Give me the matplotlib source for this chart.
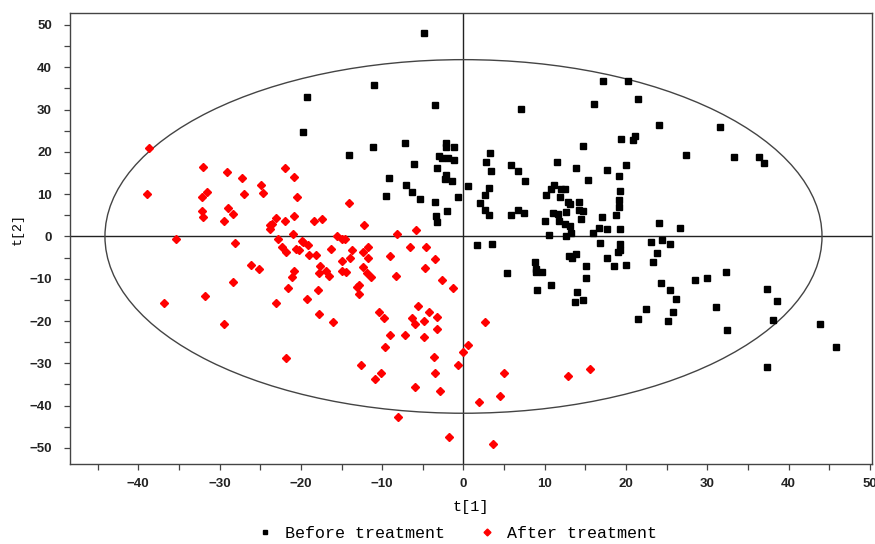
import matplotlib
matplotlib.use("Agg")
import matplotlib.pyplot as plt
from matplotlib.patches import Ellipse
from matplotlib.lines import Line2D
from matplotlib.ticker import MultipleLocator

before_x = [-4.8, -11.0, -19.3, -3.5, -19.8, -11.1, -7.2, -14.1, -2.2, -2.1, -1.2, -3.0, -2.6, -1.9, -1.2, -6.1,
            -3.3, -2.1, -2.3, -1.4, -9.1, -7.1, -9.5, -6.3, -5.4, -3.5, -0.7, 0.5, -2.0, -3.4, -3.3,
            10.5, 12.6, 13.2, 15.9, 1.7, 3.5, 5.4, 8.8, 8.9, 8.9, 9.7, 9.0, 10.8, 13.0, 13.4, 13.8, 15.1, 15.1,
            14.0, 13.7, 14.7, 16.8, 17.7, 18.5, 19.0, 19.3, 19.2, 20.0, 23.1, 23.3, 22.4, 21.5,
            7.1, 17.2, 20.2, 21.5, 16.1, 19.4, 21.1, 20.9, 14.7, 3.3, 2.8, 3.4, 5.8, 6.7, 7.6, 11.5, 13.8,
            17.6, 20.0, 15.3, 19.1, 3.1, 2.6, 2.0, 2.6, 3.1, 5.8, 6.7, 7.4, 10.1, 10.8, 11.1, 12.0, 12.5,
            11.9, 12.9, 13.1, 14.2, 14.2, 14.7, 11.0, 11.6, 12.6, 10.0, 11.7, 12.5, 13.1, 14.5, 17.0, 16.7,
            17.7, 19.2, 18.8, 19.1, 19.1, 19.3,
            24.0, 31.5, 27.4, 33.3, 36.3, 37.0, 24.0, 26.6, 24.4,
            25.4, 23.8, 24.3, 25.4, 26.1, 25.8, 25.2, 28.5, 30.0, 32.3, 31.0, 32.4, 37.3, 38.6, 38.1, 37.3,
            43.8, 45.8]
before_y = [48.0, 35.7, 32.9, 31.0, 24.6, 21.2, 22.0, 19.3, 22.0, 21.1, 21.2, 19.0, 18.6, 18.6, 18.1, 17.1,
            16.2, 14.5, 13.7, 13.0, 13.8, 12.2, 9.6, 10.6, 8.9, 8.2, 9.4, 11.9, 6.0, 4.8, 3.4,
            0.4, 0.2, 0.7, 0.7, -2.0, -1.8, -8.6, -6.1, -7.8, -8.5, -8.4, -12.6, -11.5, -4.6, -5.2, -4.2, -6.9, -9.8,
            -13.1, -15.5, -15.0, -1.6, -5.2, -7.1, -3.7, -3.2, -1.8, -6.7, -1.3, -6.0, -17.2, -19.4,
            30.1, 36.8, 36.8, 32.5, 31.3, 23.0, 23.8, 22.7, 21.5, 19.8, 17.7, 15.5, 16.9, 15.5, 13.0, 17.7, 16.3,
            15.7, 16.9, 13.3, 14.3, 11.5, 9.9, 8.0, 6.3, 5.0, 5.0, 6.3, 5.6, 9.9, 11.2, 12.1, 11.1, 11.1,
            9.4, 8.2, 7.6, 8.2, 6.3, 6.0, 5.5, 5.4, 5.7, 3.7, 3.7, 3.0, 2.5, 4.1, 4.7, 2.1,
            1.8, 1.8, 5.1, 7.0, 8.6, 10.8,
            26.4, 25.9, 19.3, 18.9, 18.9, 17.4, 3.1, 2.1, -0.8,
            -1.8, -4.0, -10.9, -12.6, -14.8, -17.9, -20.1, -10.3, -9.9, -8.4, -16.7, -22.1, -12.4, -15.3, -19.7, -30.9,
            -20.7, -26.2]

after_x = [-38.7, -38.9, -35.3, -32.0, -31.6, -32.2, -32.2, -32.0, -29.1, -27.2, -27.0, -29.0, -28.4, -29.5,
           -28.1, -24.9, -24.7, -22.0, -20.9, -20.5, -23.0, -21.9, -23.8, -23.8, -23.6, -20.8, -21.0, -22.8,
           -22.3, -21.8, -20.6, -26.1, -25.2,
           -20.8, -21.1, -21.6, -28.4, -31.8, -36.8, -23.1, -29.5, -21.8,
           -14.1, -18.4, -17.4, -12.2, -5.9, -8.2,
           -15.6, -15.0, -14.6, -19.9, -19.7, -20.2, -19.1, -19.0, -18.1, -16.3, -17.7, -17.8, -16.9, -16.6,
           -19.3, -17.9, -17.8, -16.1, -14.9, -14.9, -14.5, -14.0, -13.7, -12.4, -11.7, -11.8, -12.4, -11.9,
           -11.4, -12.8, -13.1, -12.9, -12.6, -9.0, -8.3, -6.6, -4.6, -3.5, -4.7, -2.6, -1.3, -10.4, -9.8,
           -9.0, -9.7, -10.1, -10.9, -5.6, -4.3, -6.3, -6.0, -4.9, -3.2, -3.3, -7.2, -4.9, -3.6, -3.5, -6.0,
           -2.9, -0.1, 0.6, -0.7, -8.1, -1.8,
           2.7, 5.0, 4.5, 1.9, 3.6, 12.9, 15.6]
after_y = [21.0, 10.0, -0.7, 16.5, 10.5, 9.4, 6.1, 4.5, 15.3, 13.8, 10.0, 6.7, 5.4, 3.7,
           -1.5, 12.2, 10.2, 16.3, 14.1, 9.4, 4.4, 3.7, 2.6, 1.8, 2.9, 4.8, 0.5, -0.7,
           -2.4, -3.7, -2.9, -6.7, -7.8,
           -8.2, -9.6, -12.2, -10.7, -14.1, -15.8, -15.8, -20.7, -28.8,
           7.8, 3.7, 4.1, 2.7, 1.5, 0.5,
           0.0, -0.6, -0.7, -1.0, -1.3, -3.2, -2.0, -4.4, -4.4, -2.9, -7.0, -8.6, -8.1, -9.3,
           -14.9, -12.7, -18.3, -20.2, -5.9, -8.1, -8.5, -5.1, -3.2, -3.7, -2.6, -5.2, -7.3, -8.7,
           -9.5, -11.5, -11.9, -13.7, -30.5, -4.6, -9.3, -2.4, -2.6, -5.4, -7.4, -10.2, -12.2, -17.8, -19.3,
           -23.2, -26.1, -32.2, -33.6, -16.4, -17.8, -19.3, -20.8, -20.0, -19.1, -21.9, -23.2, -23.7, -28.6, -32.4, -35.5,
           -36.6, -27.4, -25.6, -30.5, -42.6, -47.5,
           -20.2, -32.4, -37.8, -39.2, -49.1, -32.9, -31.4]

x_ticks = [-40, -30, -20, -10, 0, 10, 20, 30, 40, 50]
y_ticks = [-50, -40, -30, -20, -10, 0, 10, 20, 30, 40, 50]
labels = ["Before treatment", "After treatment"]
ellipse_a, ellipse_b = 44.1, 41.8

fig = plt.figure(figsize=(8.75, 5.44), dpi=100)
ax = fig.add_axes([70/875, 80/544, 802/875, 451.3/544])
ax.set_xlim(-48.4, 50.25)
ax.set_ylim(-53.8, 52.9)

ax.axhline(0, color="#222222", lw=1.0, zorder=1)
ax.axvline(0, color="#222222", lw=1.0, zorder=1)
ax.add_patch(Ellipse((0, 0), 2*ellipse_a, 2*ellipse_b, fill=False, ec="#444444", lw=1.0, zorder=1))

ax.plot(before_x, before_y, ls="none", marker="s", ms=3.7, color="black", mec="black", zorder=3)
ax.plot(after_x, after_y, ls="none", marker="D", ms=3.8, color="#ff0000", mec="#ff0000", zorder=3)

ax.set_xticks(x_ticks)
ax.set_yticks(y_ticks)
ax.xaxis.set_minor_locator(MultipleLocator(5))
ax.yaxis.set_minor_locator(MultipleLocator(5))
ax.tick_params(which="both", direction="out", length=4, width=0.9, color="#444444")
ax.tick_params(axis="x", which="major", pad=6, labelsize=9.5)
ax.tick_params(axis="y", which="major", pad=9, labelsize=9.5)
for lab in ax.get_xticklabels() + ax.get_yticklabels():
    lab.set_family("Liberation Sans")
    lab.set_fontweight("bold")
    lab.set_color("#222222")
for s in ax.spines.values():
    s.set_color("#444444")
    s.set_linewidth(1.0)

ax.set_xlabel("t[1]", family="Liberation Mono", fontsize=11, labelpad=7)
ax.set_ylabel("t[2]", family="Liberation Mono", fontsize=9.5)
ax.yaxis.label.set_va("center")
ax.yaxis.set_label_coords((18 - 70) / 802, (464 - 229) / 451.3)

handles = [Line2D([], [], ls="none", marker="s", ms=3.0, color="black"),
           Line2D([], [], ls="none", marker="D", ms=3.5, color="#ff0000")]
fig.legend(handles, labels, loc="center", bbox_to_anchor=(0.522, 1 - 533/544), ncol=2,
           frameon=False, prop={"family": "Liberation Mono", "size": 12},
           handlelength=1.0, handletextpad=0.7, columnspacing=2.0)

fig.savefig("out.png", dpi=100)
